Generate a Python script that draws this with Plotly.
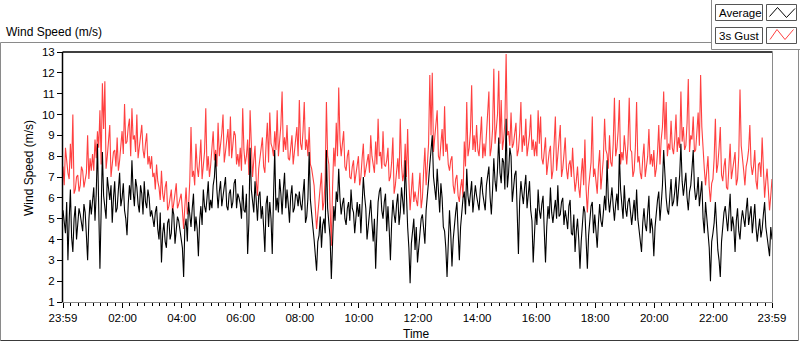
import plotly.graph_objects as go

# ---- data ----
# samples on the 5-minute marks (minutes after 23:59)
minutes_on_mark = list(range(0, 1441, 5))
# samples half way between the 5-minute marks
minutes_between = [m + 2.5 for m in range(0, 1440, 5)]

gust_on_mark = [
    7.5, 8.4, 7.2, 8.6, 10.0, 6.4, 7.1, 6.6, 7.3, 6.8, 9.0, 7.9,
    8.1, 8.8, 9.2, 10.2, 11.5, 11.6, 8.0, 9.5, 7.6, 8.3, 8.9, 7.8,
    9.2, 10.5, 8.7, 9.8, 10.3, 9.0, 10.0, 8.4, 9.5, 7.9, 9.1, 8.0,
    8.0, 7.2, 7.6, 6.5, 7.3, 5.8, 6.8, 5.6, 6.4, 5.9, 6.7, 5.7,
    6.2, 4.5, 6.5, 5.6, 9.4, 7.3, 8.6, 7.0, 8.8, 7.5, 10.3, 8.0,
    7.6, 9.2, 8.3, 9.6, 8.5, 10.0, 8.2, 9.3, 9.9, 8.4, 9.0, 8.1,
    8.4, 10.3, 7.6, 8.8, 10.2, 7.0, 8.5, 6.1, 7.9, 8.9, 7.2, 9.6,
    10.1, 8.4, 9.2, 10.2, 8.6, 11.1, 8.9, 9.5, 7.8, 9.0, 8.2, 9.4,
    10.7, 8.3, 10.6, 8.8, 9.4, 7.4, 6.6, 4.5, 6.0, 7.2, 5.8, 10.6,
    7.6, 3.7, 8.4, 9.6, 11.3, 8.0, 9.2, 7.3, 8.3, 6.9, 7.8, 7.1,
    8.0, 7.0, 8.6, 7.4, 8.1, 9.0, 7.6, 8.7, 9.8, 8.2, 9.2, 7.5,
    8.4, 7.0, 8.9, 6.6, 7.9, 9.8, 6.8, 8.6, 9.3, 5.4, 7.2, 6.3,
    5.6, 7.2, 6.0, 8.4, 7.6, 11.9, 12.0, 8.9, 10.2, 7.8, 9.3, 10.4,
    8.6, 7.3, 8.0, 6.2, 7.1, 5.8, 6.9, 8.7, 10.6, 8.4, 11.4, 9.0,
    9.5, 8.0, 9.9, 8.6, 9.2, 11.1, 8.4, 12.2, 9.6, 12.1, 10.7, 8.8,
    12.9, 9.2, 10.1, 8.6, 9.6, 8.3, 10.6, 9.0, 9.8, 8.4, 10.0, 8.8,
    8.7, 10.2, 9.9, 7.6, 8.9, 7.8, 8.5, 7.3, 9.9, 8.0, 9.5, 7.4,
    8.9, 6.9, 7.8, 8.4, 6.3, 7.5, 6.0, 7.9, 8.8, 5.3, 7.2, 9.9,
    7.4, 6.2, 8.3, 7.0, 9.8, 8.1, 9.0, 7.5, 10.8, 8.4, 10.7, 8.2,
    9.0, 7.6, 10.8, 8.2, 7.3, 10.6, 8.0, 6.9, 8.6, 7.4, 9.3, 8.1,
    8.3, 7.4, 9.5, 8.8, 11.1, 10.6, 8.6, 9.7, 8.1, 10.0, 8.9, 11.1,
    9.4, 8.5, 11.7, 9.0, 9.9, 8.3, 10.1, 11.9, 8.2, 6.6, 8.0, 5.8,
    6.9, 9.8, 7.6, 9.4, 6.8, 7.9, 6.4, 8.6, 7.3, 8.2, 6.9, 11.2,
    8.0, 6.6, 7.8, 9.5, 7.1, 8.3, 6.4, 7.7, 8.9, 6.0, 7.4, 5.4,
    6.9,
]

gust_between = [
    6.6, 7.7, 6.9, 7.4, 6.2, 7.0, 6.3, 7.5, 6.5, 7.2, 6.9, 7.3,
    7.3, 7.9, 8.4, 7.6, 9.3, 7.4, 8.6, 7.0, 8.2, 7.5, 7.3, 8.4,
    8.1, 8.6, 9.4, 8.0, 8.8, 8.2, 7.9, 9.0, 8.3, 8.6, 7.6, 7.4,
    7.0, 6.4, 6.8, 5.9, 6.2, 6.5, 5.4, 6.0, 5.3, 6.2, 5.5, 5.9,
    5.4, 5.6, 5.2, 6.8, 7.0, 6.6, 7.5, 7.8, 6.9, 8.2, 7.3, 7.0,
    8.4, 7.8, 7.5, 8.0, 9.1, 7.7, 8.8, 8.0, 7.9, 9.2, 7.6, 7.5,
    7.3, 8.3, 8.0, 7.1, 8.0, 7.8, 6.8, 7.4, 8.2, 7.5, 8.6, 7.7,
    8.6, 8.0, 8.3, 8.0, 9.5, 8.2, 8.3, 7.9, 8.5, 7.6, 8.8, 8.0,
    8.6, 9.2, 8.3, 8.0, 7.6, 7.0, 5.5, 5.2, 6.5, 5.4, 6.9, 8.0,
    5.5, 6.5, 7.5, 8.0, 8.8, 8.6, 7.5, 8.0, 7.0, 7.5, 6.7, 7.6,
    6.6, 7.9, 7.0, 7.8, 7.2, 8.0, 7.2, 7.6, 8.0, 7.4, 7.6, 7.8,
    6.8, 7.7, 6.2, 7.4, 6.9, 7.6, 7.2, 7.0, 6.8, 6.3, 5.8, 5.9,
    6.4, 5.5, 7.3, 6.6, 8.6, 9.0, 8.2, 9.4, 8.0, 8.6, 8.0, 8.2,
    7.6, 7.8, 6.6, 6.9, 6.1, 6.5, 6.0, 7.5, 8.0, 9.2, 8.3, 8.2,
    8.3, 8.9, 7.9, 8.0, 9.7, 8.0, 9.3, 8.6, 10.0, 8.6, 8.3, 9.6,
    9.0, 8.5, 8.4, 9.2, 8.0, 9.1, 8.2, 8.5, 8.0, 9.0, 8.3, 8.0,
    8.0, 8.6, 7.9, 8.4, 7.1, 8.2, 6.9, 8.3, 7.3, 8.4, 7.0, 8.1,
    7.4, 7.6, 7.0, 7.2, 6.8, 6.5, 7.1, 6.6, 6.4, 6.5, 7.7, 7.0,
    6.8, 7.5, 6.4, 7.9, 8.3, 7.4, 7.7, 8.6, 8.0, 9.2, 7.6, 7.8,
    8.0, 8.6, 8.3, 7.0, 8.4, 7.7, 7.2, 7.9, 7.0, 8.0, 7.6, 7.5,
    7.0, 8.2, 7.6, 9.4, 8.8, 8.0, 8.3, 8.4, 8.8, 8.2, 8.4, 8.7,
    8.3, 9.6, 8.2, 8.8, 8.2, 9.1, 8.5, 9.4, 7.4, 7.2, 6.5, 6.7,
    7.9, 7.2, 8.4, 7.1, 7.5, 6.5, 7.5, 6.9, 7.6, 6.6, 8.0, 8.5,
    7.3, 7.5, 8.3, 7.6, 7.5, 6.8, 7.6, 7.0, 7.4, 6.8, 6.4, 6.1,
]

average_on_mark = [
    5.4, 4.3, 3.0, 6.4, 3.4, 5.6, 4.6, 5.2, 4.4, 5.3, 3.0, 5.9,
    5.8, 4.9, 8.6, 2.6, 8.2, 5.6, 7.0, 5.9, 4.8, 6.8, 5.5, 7.2,
    6.0, 5.4, 4.2, 6.6, 7.8, 5.6, 6.5, 5.3, 6.2, 6.8, 5.5, 6.0,
    5.4, 4.6, 5.6, 4.0, 2.9, 4.8, 3.6, 5.0, 4.3, 5.2, 4.5, 4.9,
    4.2, 2.2, 5.0, 5.8, 4.6, 6.2, 5.1, 3.2, 5.6, 6.4, 5.3, 6.8,
    5.9, 6.6, 8.1, 5.5, 6.8, 6.0, 7.0, 5.4, 6.4, 5.8, 6.9, 6.2,
    5.7, 6.6, 5.3, 3.3, 8.4, 5.9, 6.8, 4.9, 6.3, 5.6, 3.4, 6.1,
    5.8, 3.3, 8.3, 6.0, 6.9, 5.2, 7.2, 6.4, 4.8, 6.6, 5.5, 6.1,
    6.3, 5.4, 6.9, 5.1, 8.2, 5.0, 4.0, 2.5, 4.2, 3.6, 5.0, 8.3,
    4.8, 2.1, 5.6, 6.3, 7.4, 5.2, 6.0, 4.7, 5.8, 6.4, 5.3, 4.9,
    5.1, 4.3, 7.0, 5.5, 4.6, 5.9, 3.9, 2.6, 5.8, 6.5, 5.0, 6.2,
    5.6, 3.0, 5.9, 4.8, 6.2, 5.3, 6.0, 7.8, 4.6, 1.9, 4.4, 3.5,
    2.9, 4.1, 5.2, 3.8, 6.4, 7.6, 9.0, 6.5, 7.4, 5.3, 6.0, 4.4,
    2.2, 5.4, 2.7, 4.9, 5.8, 3.0, 5.5, 6.3, 7.4, 5.6, 6.8, 5.9,
    6.1, 5.4, 7.0, 5.8, 6.6, 7.5, 5.2, 7.9, 6.3, 8.9, 6.7, 7.7,
    9.8, 7.2, 8.0, 6.4, 7.3, 3.3, 6.8, 5.7, 7.1, 6.0, 5.4, 2.9,
    5.5, 6.4, 5.0, 6.1, 2.9, 5.6, 6.5, 4.8, 5.9, 6.6, 5.2, 6.0,
    5.4, 4.5, 5.9, 4.2, 3.4, 5.0, 2.6, 4.7, 5.3, 2.6, 4.9, 5.8,
    5.2, 3.6, 5.7, 4.6, 6.1, 7.8, 5.3, 6.5, 4.9, 6.2, 8.1, 5.8,
    6.6, 5.1, 6.0, 4.7, 5.9, 6.4, 4.5, 3.4, 5.5, 4.4, 6.1, 5.0,
    3.2, 5.4, 6.3, 5.7, 8.3, 6.0, 5.2, 6.9, 5.8, 7.0, 6.2, 8.6,
    6.1, 7.2, 5.4, 6.6, 8.3, 5.9, 7.0, 6.3, 5.0, 5.8, 4.6, 2.0,
    4.3, 5.8, 3.5, 2.2, 4.9, 5.6, 4.4, 6.2, 5.1, 3.4, 5.5, 4.0,
    5.4, 4.6, 6.0, 5.2, 4.3, 5.7, 3.9, 5.0, 4.5, 5.8, 4.1, 3.2,
    4.0,
]

average_between = [
    4.7, 5.8, 4.9, 4.1, 5.0, 4.0, 5.5, 4.8, 5.7, 4.2, 4.9, 5.2,
    6.5, 6.2, 5.0, 5.4, 6.1, 5.0, 6.3, 6.6, 6.0, 5.3, 6.4, 5.6,
    6.7, 5.0, 5.7, 5.9, 6.3, 6.9, 5.7, 6.6, 5.2, 5.8, 6.4, 5.1,
    5.0, 5.3, 4.5, 5.3, 4.3, 3.9, 4.8, 4.0, 5.5, 3.8, 5.1, 4.4,
    3.6, 4.6, 3.9, 5.2, 5.5, 4.4, 4.5, 4.9, 4.7, 5.6, 6.0, 5.4,
    5.5, 7.0, 6.4, 6.3, 5.6, 6.6, 5.6, 6.2, 5.5, 6.7, 5.5, 6.0,
    5.0, 5.4, 6.2, 4.8, 6.4, 5.3, 5.5, 6.1, 5.0, 4.6, 5.7, 4.6,
    5.0, 6.0, 5.4, 5.3, 6.2, 6.4, 5.5, 5.7, 6.1, 5.3, 6.2, 5.6,
    5.7, 6.2, 4.8, 6.0, 5.9, 4.6, 3.3, 3.9, 5.1, 4.7, 4.3, 5.5,
    4.1, 3.9, 4.9, 5.8, 6.0, 5.7, 5.0, 5.5, 4.9, 5.5, 4.3, 5.8,
    5.7, 5.4, 6.1, 4.0, 5.2, 4.8, 5.0, 4.4, 6.3, 5.4, 5.8, 4.4,
    4.5, 4.8, 5.2, 5.7, 4.7, 6.5, 5.2, 5.6, 3.6, 3.8, 5.0, 4.6,
    3.6, 5.0, 4.3, 5.4, 6.8, 8.2, 7.0, 5.9, 6.1, 6.7, 4.6, 3.6,
    3.8, 4.3, 4.0, 5.3, 4.2, 4.6, 6.0, 5.2, 6.1, 6.4, 5.3, 6.6,
    5.6, 6.4, 6.2, 5.4, 7.0, 6.0, 6.4, 6.8, 7.4, 7.2, 7.9, 6.4,
    6.5, 8.4, 5.8, 7.1, 5.6, 5.8, 6.2, 6.5, 5.5, 6.8, 4.9, 4.6,
    4.7, 5.4, 5.7, 4.4, 4.6, 5.0, 5.3, 5.4, 5.0, 5.1, 5.8, 4.7,
    5.0, 5.6, 4.3, 5.2, 4.4, 4.0, 3.9, 5.6, 3.8, 4.2, 5.6, 4.3,
    4.4, 4.8, 4.9, 5.3, 5.4, 6.0, 5.9, 5.6, 5.7, 5.4, 6.4, 5.0,
    5.5, 5.8, 5.2, 5.3, 4.9, 5.0, 4.2, 4.8, 4.7, 5.3, 4.3, 4.5,
    4.6, 5.9, 4.9, 6.6, 6.9, 5.4, 6.1, 5.6, 6.3, 5.6, 7.1, 6.8,
    6.7, 6.0, 6.3, 7.4, 6.5, 6.2, 5.6, 6.8, 4.3, 5.1, 3.6, 3.9,
    4.8, 4.5, 3.0, 3.9, 5.3, 4.8, 5.3, 4.4, 4.6, 4.9, 4.4, 4.9,
    5.0, 5.4, 4.7, 5.6, 4.9, 4.6, 4.5, 4.1, 5.2, 4.6, 3.8, 4.6,
]

tick_minutes = [0, 121, 241, 361, 481, 601, 721, 841, 961, 1081, 1201, 1321, 1440]
tick_labels = ["23:59", "02:00", "04:00", "06:00", "08:00", "10:00", "12:00",
               "14:00", "16:00", "18:00", "20:00", "22:00", "23:59"]
minor_tick_minutes = [1 + 15 * k for k in range(1, 96) if (15 * k) % 120 != 0]


def merge(times_a, vals_a, times_b, vals_b):
    pairs = sorted(list(zip(times_a, vals_a)) + list(zip(times_b, vals_b)))
    return [p[0] for p in pairs], [p[1] for p in pairs]


gust_t, gust_v = merge(minutes_on_mark, gust_on_mark, minutes_between, gust_between)
avg_t, avg_v = merge(minutes_on_mark, average_on_mark, minutes_between, average_between)

# ---- layout geometry (pixels) ----
W, H = 800, 342
L, R, T, B = 63, 28, 52, 40
PW, PH = W - L - R, H - T - B


def px(x):
    return (x - L) / PW


def py(y):
    return (H - B - y) / PH


FONT = "Liberation Sans, Arial, sans-serif"

fig = go.Figure()
fig.add_trace(go.Scatter(x=gust_t, y=gust_v, mode="lines", name="3s Gust",
                         line=dict(color="#ff4040", width=1.1), showlegend=False))
fig.add_trace(go.Scatter(x=avg_t, y=avg_v, mode="lines", name="Average",
                         line=dict(color="#000000", width=1.1), showlegend=False))

shapes = []


def line(x0, y0, x1, y1, color, width=1):
    shapes.append(dict(type="line", xref="paper", yref="paper",
                       x0=px(x0), y0=py(y0), x1=px(x1), y1=py(y1),
                       line=dict(color=color, width=width)))


def rect(x0, y0, x1, y1, color, width=1):
    shapes.append(dict(type="rect", xref="paper", yref="paper",
                       x0=px(x0), y0=py(y0), x1=px(x1), y1=py(y1),
                       line=dict(color=color, width=width), fillcolor="white"))


# outer frame
line(0.5, 42.5, 711.5, 42.5, "#8a8a8a")
line(0.5, 42.5, 0.5, 340.5, "#8a8a8a")
line(0.5, 340.5, 798.5, 340.5, "#3a3a3a")
line(798.5, 49.5, 798.5, 340.5, "#8a8a8a")
# legend panel frame
line(711.5, 0, 711.5, 49.5, "#8a8a8a")
line(711.5, 49.5, 800, 49.5, "#8a8a8a")
# plot frame
line(62.5, 52, 772.5, 52, "#000000", 1.5)
line(62.5, 52, 62.5, 302.5, "#000000", 1.5)
line(62.5, 302.5, 772.5, 302.5, "#8a8a8a")
line(772.5, 52, 772.5, 302.5, "#8a8a8a")

# legend boxes
for (y0, y1) in [(4.5, 20.5), (27.5, 43.5)]:
    rect(715.5, y0, 762.5, y1, "#555555")
    rect(766.5, y0, 796.5, y1, "#555555")


def zig(points, color):
    d = "M " + " L ".join(f"{px(x):.5f},{py(y):.5f}" for x, y in points)
    shapes.append(dict(type="path", xref="paper", yref="paper", path=d,
                       line=dict(color=color, width=1)))


zig([(769.5, 16.5), (777.5, 7.5), (786.5, 17.5), (795, 8.5)], "#000000")
zig([(770, 39.5), (777, 29.5), (785, 39.5), (793.5, 29.5)], "#ff4040")

annotations = [
    dict(text="Wind Speed (m/s)", x=px(4), y=py(32), xref="paper", yref="paper",
         xanchor="left", yanchor="middle", showarrow=False,
         font=dict(family=FONT, size=12, color="#000")),
    dict(text="Time", x=px(416.5), y=py(333.5), xref="paper", yref="paper",
         xanchor="center", yanchor="middle", showarrow=False,
         font=dict(family=FONT, size=12, color="#000")),
    dict(text="Wind Speed (m/s)", x=px(29), y=py(168), xref="paper", yref="paper",
         xanchor="center", yanchor="middle", showarrow=False, textangle=-90,
         font=dict(family=FONT, size=12, color="#000")),
    dict(text="Average", x=px(717), y=py(12.8), xref="paper", yref="paper",
         xanchor="left", yanchor="middle", showarrow=False,
         font=dict(family=FONT, size=11.5, color="#000")),
    dict(text="3s Gust", x=px(717), y=py(35.8), xref="paper", yref="paper",
         xanchor="left", yanchor="middle", showarrow=False,
         font=dict(family=FONT, size=11.5, color="#000")),
]

fig.update_layout(
    width=W, height=H,
    margin=dict(l=L, r=R, t=T, b=B, pad=0),
    paper_bgcolor="white", plot_bgcolor="white",
    showlegend=False,
    shapes=shapes, annotations=annotations,
    xaxis=dict(range=[0, 1440], tickmode="array", tickvals=tick_minutes, ticktext=tick_labels,
               ticks="outside", ticklen=5, tickcolor="#000", tickwidth=1,
               showgrid=False, zeroline=False, showline=False,
               tickfont=dict(family=FONT, size=11.5, color="#000"),
               minor=dict(tickmode="array", tickvals=minor_tick_minutes, ticks="outside",
                          ticklen=3, tickcolor="#000", tickwidth=1, showgrid=False)),
    yaxis=dict(range=[1, 13], tickmode="linear", tick0=1, dtick=1,
               ticks="outside", ticklen=5, tickcolor="#000", tickwidth=1,
               showgrid=False, zeroline=False, showline=False,
               tickfont=dict(family=FONT, size=11.5, color="#000")),
)

fig.write_html("out.html",
               config={"displayModeBar": False},
               post_script="document.body.style.margin='0';document.body.style.overflow='hidden';")
